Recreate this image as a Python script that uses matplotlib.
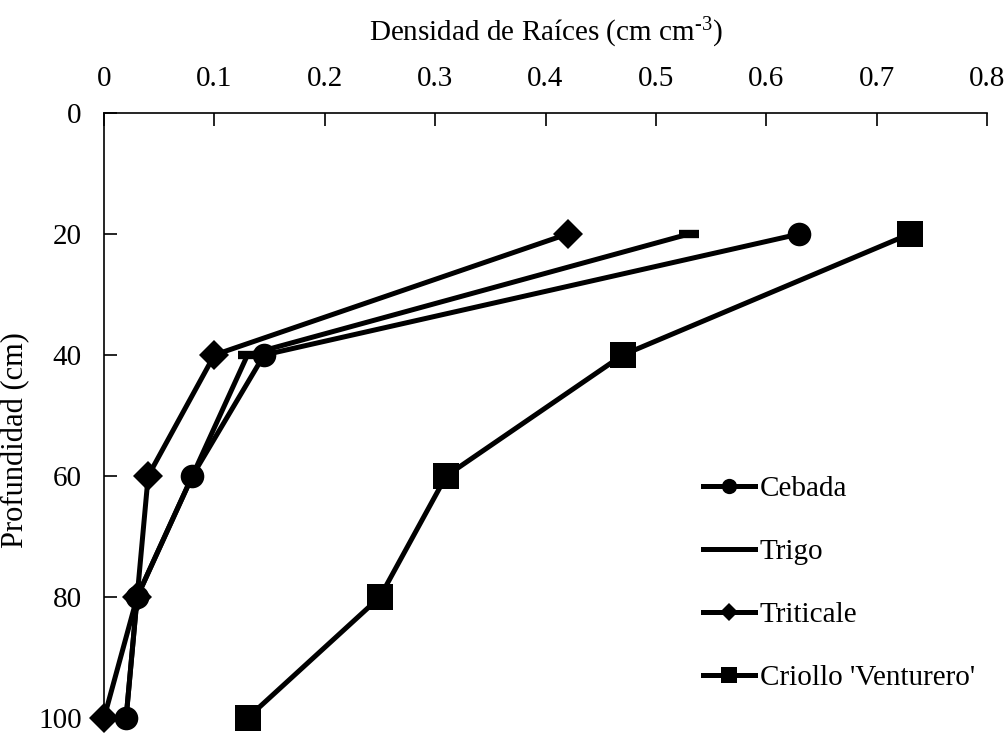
import matplotlib
matplotlib.use("Agg")
import matplotlib.pyplot as plt
from matplotlib.lines import Line2D

depth = [20, 40, 60, 80, 100]
cebada = [0.63, 0.145, 0.08, 0.03, 0.02]
trigo = [0.53, 0.13, 0.08, 0.03, 0.02]
triticale = [0.42, 0.10, 0.04, 0.03, 0.0]
criollo = [0.73, 0.47, 0.31, 0.25, 0.13]
labels = ["Cebada", "Trigo", "Triticale", "Criollo 'Venturero'"]
xticks = [0, 0.1, 0.2, 0.3, 0.4, 0.5, 0.6, 0.7, 0.8]
xticklabels = ["0", "0.1", "0.2", "0.3", "0.4", "0.5", "0.6", "0.7", "0.8"]
yticks = [0, 20, 40, 60, 80, 100]

plt.rcParams['font.family'] = ['Liberation Serif', 'DejaVu Serif']
plt.rcParams['mathtext.fontset'] = 'custom'
plt.rcParams['mathtext.rm'] = 'Liberation Serif'
plt.rcParams['mathtext.it'] = 'Liberation Serif:italic'
FS = 21

fig = plt.figure(figsize=(10.08, 7.36), dpi=100)
ax = fig.add_axes([0.1032, 0.0245, 0.876, 0.822])

lw = 3.6
ax.plot(triticale, depth, color='black', lw=lw, marker='D', ms=15, mew=0, zorder=3, clip_on=False)
ax.plot(trigo, depth, color='black', lw=lw, marker='_', ms=15, mew=6, zorder=3, clip_on=False)
ax.plot(cebada, depth, color='black', lw=lw, marker='o', ms=17, mew=0, zorder=3, clip_on=False)
ax.plot(criollo, depth, color='black', lw=lw, marker='s', ms=19, mew=0, zorder=3, clip_on=False)

ax.set_xlim(0, 0.8)
ax.set_ylim(100, 0)
ax.xaxis.tick_top()
ax.xaxis.set_label_position('top')
ax.set_xticks(xticks)
ax.set_xticklabels(xticklabels)
ax.set_yticks(yticks)
for s in ['right', 'bottom']:
    ax.spines[s].set_visible(False)
for s in ['left', 'top']:
    ax.spines[s].set_linewidth(1.2)
ax.tick_params(axis='x', direction='in', length=9, width=1.2, labelsize=FS, pad=15)
ax.tick_params(axis='y', direction='in', length=9, width=1.2, labelsize=FS, pad=16)
ax.set_xlabel("Densidad de Raíces (cm cm$^{\\text{-3}}$)", fontsize=FS, labelpad=18)
ax.set_ylabel("Profundidad (cm)", fontsize=22)
ax.yaxis.set_label_coords(-0.084, 0.46)

handles = [
    Line2D([], [], color='black', lw=lw, marker='o', ms=11, mew=0),
    Line2D([], [], color='black', lw=lw),
    Line2D([], [], color='black', lw=lw, marker='D', ms=9, mew=0),
    Line2D([], [], color='black', lw=lw, marker='s', ms=12, mew=0),
]
leg = ax.legend(handles, labels, loc='upper left', bbox_to_anchor=(0.678, 0.40),
                frameon=False, fontsize=FS, handlelength=1.8, handletextpad=0.15,
                labelspacing=1.25, borderaxespad=0, borderpad=0)

fig.savefig("out.png", dpi=100)
